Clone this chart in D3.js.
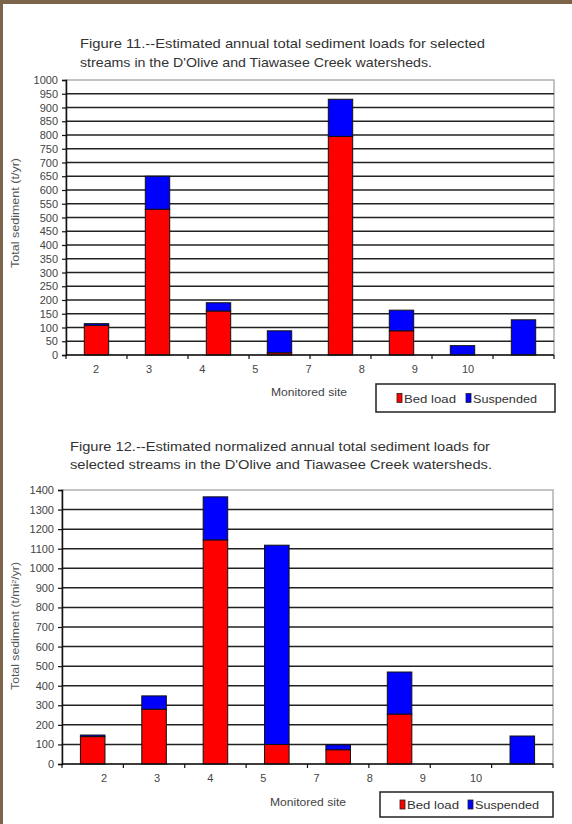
<!DOCTYPE html>
<html><head><meta charset="utf-8">
<script src="https://cdn.jsdelivr.net/npm/d3@7/dist/d3.min.js"></script>
<style>
html,body{margin:0;padding:0;background:#fff;}
svg{display:block;font-family:"Liberation Sans",Arial,sans-serif;}
</style></head>
<body>
<svg id="c" width="572" height="824"></svg>
<script>
// ---- Data ----
const siteSlots = ["a","b","c","d","e","f","g","h"];
const siteLabels = ["2","3","4","5","7","8","9","10"];

const fig11Bed = [108, 530, 160, 8, 795, 88, 0, 0];
const fig11Susp = [6, 120, 30, 80, 135, 75, 34, 128];
const fig11Ticks = d3.range(0, 1001, 50);

const fig12Bed = [140, 280, 1145, 100, 73, 255, 0, 0];
const fig12Susp = [8, 68, 220, 1018, 25, 215, 0, 143];
const fig12Ticks = d3.range(0, 1401, 100);

const seriesNames = ["Bed load", "Suspended"];
const seriesColors = ["#ff0000", "#0000ff"];

const svg = d3.select("#c");
svg.append("rect").attr("width",572).attr("height",824).attr("fill","#fff");
// frame
svg.append("rect").attr("x",0).attr("y",0).attr("width",572).attr("height",4).attr("fill","#7b6449");
svg.append("rect").attr("x",0).attr("y",0).attr("width",3).attr("height",824).attr("fill","#7b6449");

function drawChart(cfg){
  const g = svg.append("g");
  const x = d3.scaleBand().domain(siteSlots).range([cfg.x0, cfg.x1]).paddingInner(0.6).paddingOuter(0.3);
  const y = d3.scaleLinear().domain([0, cfg.max]).range([cfg.y0, cfg.y1]);
  const xl = d3.scalePoint().domain(siteLabels).range(cfg.labelRange);

  // title
  cfg.title.forEach((t,i)=>{
    g.append("text").attr("x",cfg.titleX).attr("y",cfg.titleY + i*cfg.titleGap)
      .attr("font-size",13).attr("fill","#333")
      .attr("textLength",cfg.titleLen[i]).attr("lengthAdjust","spacingAndGlyphs").text(t);
  });

  // plot border (gray top & right)
  g.append("rect").attr("x",cfg.x0).attr("y",cfg.y1).attr("width",cfg.x1-cfg.x0).attr("height",cfg.y0-cfg.y1)
    .attr("fill","none").attr("stroke","#b0b0b0").attr("stroke-width",1.5);

  // gridlines
  g.selectAll(".grid").data(cfg.ticks.filter(d=>d>0 && d<cfg.max)).enter().append("line")
    .attr("x1",cfg.x0).attr("x2",cfg.x1).attr("y1",d=>y(d)).attr("y2",d=>y(d))
    .attr("stroke","#222").attr("stroke-width",1.5);

  // y axis
  const ya = d3.axisLeft(y).tickValues(cfg.ticks).tickSize(4).tickPadding(4).tickFormat(d3.format("d"));
  const yg = g.append("g").attr("transform",`translate(${cfg.x0},0)`).call(ya);
  yg.select(".domain").attr("stroke","#111").attr("stroke-width",1.5);
  yg.selectAll(".tick line").attr("stroke","#111").attr("stroke-width",1.2);
  yg.selectAll(".tick text").attr("font-size",11).attr("fill","#444").attr("font-family","Liberation Sans, Arial, sans-serif");

  // bars (stacked)
  const rows = siteSlots.map((s,i)=>({slot:s, bed:cfg.bed[i], susp:cfg.susp[i]}));
  const stack = d3.stack().keys(["bed","susp"])(rows);
  stack.forEach((layer,li)=>{
    g.selectAll(".b"+li+cfg.id).data(layer.filter(d=>d[1]-d[0]>0)).enter().append("rect")
      .attr("x",d=>x(d.data.slot)).attr("width",x.bandwidth())
      .attr("y",d=>y(d[1])).attr("height",d=>y(d[0])-y(d[1]))
      .attr("fill",seriesColors[li]).attr("stroke","#111").attr("stroke-width",1);
  });

  // x axis line and ticks at band boundaries
  g.append("line").attr("x1",cfg.x0).attr("x2",cfg.x1).attr("y1",cfg.y0).attr("y2",cfg.y0)
    .attr("stroke","#111").attr("stroke-width",1.5);
  const half = (x.step()-x.bandwidth())/2;
  const bounds = siteSlots.map(s=>x(s)-half).concat([x(siteSlots[siteSlots.length-1])+x.bandwidth()+half]);
  g.selectAll(".xt"+cfg.id).data(bounds).enter().append("line")
    .attr("x1",d=>d).attr("x2",d=>d).attr("y1",cfg.y0).attr("y2",cfg.y0+4)
    .attr("stroke","#111").attr("stroke-width",1.2);
  g.selectAll(".xl"+cfg.id).data(siteLabels).enter().append("text")
    .attr("x",d=>xl(d)).attr("y",cfg.y0+18).attr("text-anchor","middle")
    .attr("font-size",11).attr("fill","#444").text(d=>d);

  // axis titles
  g.append("text").attr("x",cfg.xTitleX).attr("y",cfg.xTitleY).attr("text-anchor","middle")
    .attr("font-size",10.5).attr("fill","#444")
    .attr("textLength",76).attr("lengthAdjust","spacingAndGlyphs").text("Monitored site");
  const yt = g.append("text").attr("transform",`translate(${cfg.yTitleX},${cfg.yTitleY}) rotate(-90)`)
    .attr("text-anchor","middle").attr("font-size",10).attr("fill","#555")
    .attr("textLength",cfg.yTitleLen).attr("lengthAdjust","spacingAndGlyphs");
  cfg.yTitle(yt);

  // legend
  const L = cfg.legend;
  g.append("rect").attr("x",L.x).attr("y",L.y).attr("width",L.w).attr("height",L.h)
    .attr("fill","#fff").attr("stroke","#222").attr("stroke-width",1.5);
  const lens = [52, 64];
  seriesNames.forEach((n,i)=>{
    g.append("rect").attr("x",L.items[i]).attr("y",L.y+L.h/2-4.5).attr("width",5).attr("height",9)
      .attr("fill",seriesColors[i]).attr("stroke","#222").attr("stroke-width",0.8);
    g.append("text").attr("x",L.items[i]+7).attr("y",L.y+L.h/2+4.5)
      .attr("font-size",11).attr("fill","#333")
      .attr("textLength",lens[i]).attr("lengthAdjust","spacingAndGlyphs").text(n);
  });
}

drawChart({
  id:"a", x0:66, x1:554, y0:355, y1:80, max:1000, ticks:fig11Ticks,
  bed:fig11Bed, susp:fig11Susp, labelRange:[96,468],
  title:["Figure 11.--Estimated annual total sediment loads for selected","streams in the D'Olive and Tiawasee Creek watersheds."],
  titleLen:[405, 352], titleGap:19,
  titleX:80, titleY:48,
  xTitleX:309, xTitleY:396, yTitleX:19, yTitleY:213, yTitleLen:110,
  yTitle: t=>t.text("Total sediment (t/yr)"),
  legend:{x:376, y:384, w:179, h:28, items:[397,466]}
});

drawChart({
  id:"b", x0:62, x1:553, y0:764, y1:490, max:1400, ticks:fig12Ticks,
  bed:fig12Bed, susp:fig12Susp, labelRange:[104,476],
  title:["Figure 12.--Estimated normalized annual total sediment loads for","selected streams in the D'Olive and Tiawasee Creek watersheds."],
  titleLen:[420, 422], titleGap:18,
  titleX:70, titleY:451,
  xTitleX:308, xTitleY:806, yTitleX:19, yTitleY:626, yTitleLen:128,
  yTitle: t=>{ t.append("tspan").text("Total sediment (t/mi");
               t.append("tspan").attr("dy",-3).attr("font-size",6).text("2");
               t.append("tspan").attr("dy",3).text("/yr)"); },
  legend:{x:380, y:792, w:173, h:25, items:[400,468]}
});
</script>
</body></html>
